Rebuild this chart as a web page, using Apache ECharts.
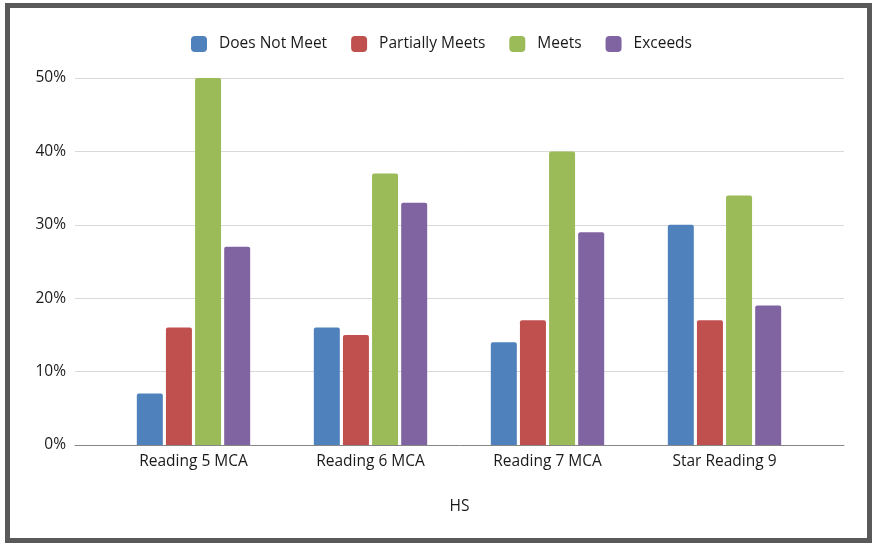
<!DOCTYPE html>
<html>
<head>
<meta charset="utf-8">
<script src="https://cdn.jsdelivr.net/npm/echarts@6/dist/echarts.min.js"></script>
<style>
  html, body { margin: 0; padding: 0; background: #ffffff; }
  #chart { width: 872px; height: 543px; }
</style>
</head>
<body>
<div id="chart"></div>
<script>
// Reading assessment results by proficiency level (percent of students)
const categories = ['Reading 5 MCA', 'Reading 6 MCA', 'Reading 7 MCA', 'Star Reading 9'];
const doesNotMeet = [7, 16, 14, 30];
const partiallyMeets = [16, 15, 17, 17];
const meets = [50, 37, 40, 34];
const exceeds = [27, 33, 29, 19];
const yTicks = [0, 10, 20, 30, 40, 50];

const seriesDefs = [
  { name: 'Does Not Meet', data: doesNotMeet, color: '#4F81BD' },
  { name: 'Partially Meets', data: partiallyMeets, color: '#C0504D' },
  { name: 'Meets', data: meets, color: '#9BBB59' },
  { name: 'Exceeds', data: exceeds, color: '#8064A2' }
];

const font = 'Open Sans';
const fontSize = 15.5;
const textColor = '#1a1a1a';
const yMin = yTicks[0];
const yMax = yTicks[yTicks.length - 1];
const yStep = yTicks[1] - yTicks[0];

const chart = echarts.init(document.getElementById('chart'));
chart.setOption({
  backgroundColor: '#ffffff',
  animation: false,
  textStyle: { fontFamily: font },
  graphic: [{
    type: 'rect',
    shape: { x: 7.5, y: 5.5, width: 862, height: 535 },
    style: { fill: 'none', stroke: '#595959', lineWidth: 5 },
    z: 100
  }],
  legend: {
    top: 31,
    left: 186,
    itemWidth: 16,
    itemHeight: 16,
    itemGap: 24,
    icon: 'roundRect',
    textStyle: { fontFamily: font, fontSize: fontSize, color: textColor, padding: [0, 0, 0, 7] },
    data: seriesDefs.map(s => s.name)
  },
  grid: [
    { left: 75, right: 28, top: 78, bottom: 98 },
    { left: 105, right: 59, top: 78, bottom: 98 }
  ],
  xAxis: [
    {
      gridIndex: 0, type: 'category', data: [''],
      axisLine: { lineStyle: { color: '#868686', width: 1 } },
      axisTick: { show: false }, axisLabel: { show: false },
      name: 'HS', nameLocation: 'middle', nameGap: 54,
      nameTextStyle: { fontFamily: font, fontSize: fontSize, color: textColor }
    },
    {
      gridIndex: 1, type: 'category', data: categories,
      axisLine: { show: false }, axisTick: { show: false },
      axisLabel: { fontFamily: font, fontSize: fontSize, color: textColor, margin: 9 }
    }
  ],
  yAxis: [
    {
      gridIndex: 0, type: 'value', min: yMin, max: yMax, interval: yStep,
      axisLine: { show: false }, axisTick: { show: false },
      splitLine: { lineStyle: { color: '#d9d9d9', width: 1 } },
      axisLabel: { fontFamily: font, fontSize: fontSize, color: textColor, margin: 9, formatter: v => v + '%' }
    },
    {
      gridIndex: 1, type: 'value', min: yMin, max: yMax, interval: yStep,
      show: false
    }
  ],
  series: seriesDefs.map(s => ({
    name: s.name,
    type: 'bar',
    xAxisIndex: 1,
    yAxisIndex: 1,
    data: s.data,
    barWidth: 26,
    barGap: '12%',
    itemStyle: { color: s.color, borderRadius: [2, 2, 0, 0] }
  }))
});
</script>
</body>
</html>
